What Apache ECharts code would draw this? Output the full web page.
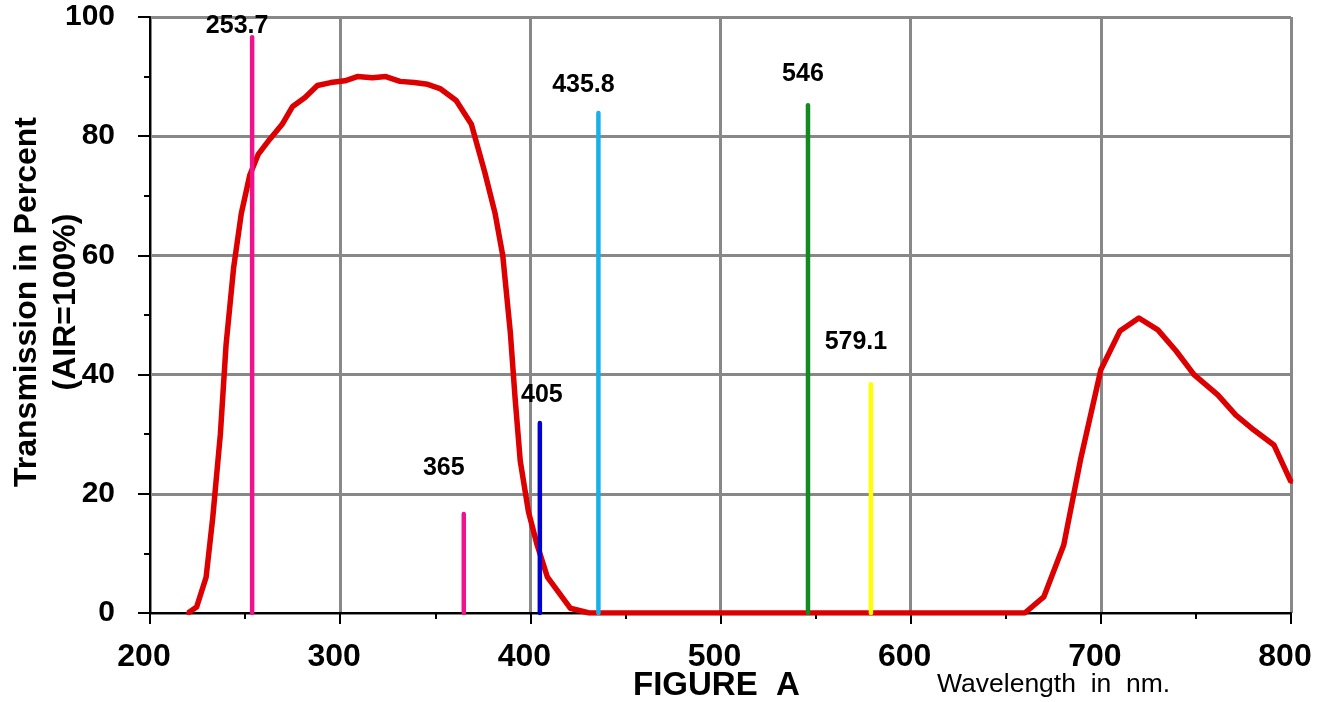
<!DOCTYPE html>
<html>
<head>
<meta charset="utf-8">
<title>Transmission</title>
<script src="https://cdn.jsdelivr.net/npm/echarts@6/dist/echarts.min.js"></script>
<style>
  html, body { margin: 0; padding: 0; background: #fff; }
  #chart { width: 1320px; height: 702px; }
</style>
</head>
<body>
<div id="chart"></div>
<script>
// Filter transmission curve (wavelength in nm, transmission in %)
const wavelengthNm = [
  220, 224.5, 229.5, 233, 237, 240, 244, 248, 252.5, 257, 263, 269.5, 275, 281.5,
  288, 295, 302.5, 309, 317, 324, 331.5, 339, 346, 352.5, 361, 369, 376, 381.5,
  385.5, 389.5, 392, 394.7, 399, 403.5, 409, 421, 431,
  440, 450, 460, 470, 480, 490, 500, 510, 520, 530, 540, 550, 560, 570, 580,
  590, 600, 610, 620, 630, 640, 650, 660,
  670, 680.5, 689.5, 700, 710, 720, 730, 739.5, 749, 761.5, 771, 780.5, 791, 800
];
const transmissionPct = [
  0, 1, 6, 16, 30, 45, 58, 67, 73.5, 77, 79.5, 82, 85, 86.5,
  88.5, 89, 89.3, 90, 89.8, 90, 89.2, 89, 88.7, 88, 86, 82, 74, 67,
  60, 47, 36, 25.5, 17, 11.5, 6, 0.8, 0,
  0, 0, 0, 0, 0, 0, 0, 0, 0, 0, 0, 0, 0, 0, 0,
  0, 0, 0, 0, 0, 0, 0, 0,
  2.7, 11.4, 26, 40.8, 47.3, 49.5, 47.5, 44, 40, 36.6, 33.2, 30.7, 28.2, 22
];

// Mercury emission lines: wavelength (nm) and relative height (%)
const lineWavelengths = [253.7, 365, 405, 435.8, 546, 579.1];
const lineHeights = [96.6, 16.6, 31.9, 83.9, 85.2, 38.4];
const lineLabels = ['253.7', '365', '405', '435.8', '546', '579.1'];

// Axis ticks and titles
const xTicks = [200, 300, 400, 500, 600, 700, 800];
const yTicks = [0, 20, 40, 60, 80, 100];
const yTitle = ['Transmission in Percent', '(AIR=100%)'];
const figureTitle = 'FIGURE  A';
const xTitle = 'Wavelength  in  nm.';

// Drawing styles for the emission lines and their label placement
const lineColors = ['#f0128c', '#f0128c', '#0000d2', '#18b0ea', '#128a22', '#ffff00'];
const labelOffsets = [[-15, -11], [-20, -46], [2, -28], [-15, -28], [-5, -31], [-15, -42]];

const FONT = "'Liberation Sans', Arial, Helvetica, sans-serif";

const emissionSeries = lineWavelengths.map((wl, i) => ({
  type: 'line',
  name: lineLabels[i],
  z: 5,
  symbol: 'circle',
  symbolSize: 1,
  showSymbol: true,
  animation: false,
  lineStyle: { color: lineColors[i], width: 4.5, cap: 'round' },
  itemStyle: { color: lineColors[i] },
  data: [
    { value: [wl, 0], label: { show: false } },
    {
      value: [wl, lineHeights[i]],
      label: {
        show: true,
        position: 'inside',
        formatter: lineLabels[i],
        offset: labelOffsets[i],
        color: '#000',
        fontFamily: FONT,
        fontWeight: 'bold',
        fontSize: 25
      }
    }
  ]
}));

const chart = echarts.init(document.getElementById('chart'), null, { renderer: 'canvas' });

chart.setOption({
  backgroundColor: '#ffffff',
  animation: false,
  grid: { left: 150, right: 29, top: 17, bottom: 89, containLabel: false, outerBoundsMode: 'none' },
  xAxis: {
    type: 'value',
    min: xTicks[0],
    max: xTicks[xTicks.length - 1],
    interval: xTicks[1] - xTicks[0],
    axisLine: { show: true, onZero: false, lineStyle: { color: '#000', width: 2 } },
    axisTick: { show: true, length: 11, lineStyle: { color: '#000', width: 2 } },
    minorTick: { show: true, splitNumber: 2, length: 6, lineStyle: { color: '#000', width: 2 } },
    axisLabel: {
      color: '#000', fontFamily: FONT, fontWeight: 'bold', fontSize: 32, margin: 28,
      padding: [0, 12, 0, 0],
      formatter: v => String(v)
    },
    splitLine: { show: true, lineStyle: { color: '#888888', width: 3 } }
  },
  yAxis: {
    type: 'value',
    min: yTicks[0],
    max: yTicks[yTicks.length - 1],
    interval: yTicks[1] - yTicks[0],
    axisLine: { show: true, lineStyle: { color: '#000', width: 2 } },
    axisTick: { show: true, length: 12, lineStyle: { color: '#000', width: 2 } },
    minorTick: { show: true, splitNumber: 2, length: 6, lineStyle: { color: '#000', width: 2 } },
    axisLabel: {
      color: '#000', fontFamily: FONT, fontWeight: 'bold', fontSize: 30, margin: 35
    },
    splitLine: { show: true, lineStyle: { color: '#888888', width: 3 } }
  },
  graphic: [
    {
      type: 'text', x: 27, y: 302, rotation: Math.PI / 2,
      style: {
        text: yTitle[0], fill: '#000', font: "bold 32px " + FONT,
        textAlign: 'center', textVerticalAlign: 'middle'
      }
    },
    {
      type: 'text', x: 66, y: 302, rotation: Math.PI / 2,
      style: {
        text: yTitle[1], fill: '#000', font: "bold 32px " + FONT,
        textAlign: 'center', textVerticalAlign: 'middle'
      }
    },
    {
      type: 'text', left: 633, top: 669,
      style: { text: figureTitle, fill: '#000', font: "bold 33px " + FONT }
    },
    {
      type: 'text', left: 937, top: 671,
      style: { text: xTitle, fill: '#000', font: "26.5px " + FONT }
    }
  ],
  series: [
    {
      type: 'line',
      name: 'Transmission',
      z: 3,
      data: wavelengthNm.map((w, i) => [w, transmissionPct[i]]),
      symbol: 'circle',
      symbolSize: 4,
      showSymbol: true,
      lineStyle: { color: '#dc0000', width: 5.5, join: 'round' },
      itemStyle: { color: '#dc0000' }
    }
  ].concat(emissionSeries)
});
</script>
</body>
</html>
